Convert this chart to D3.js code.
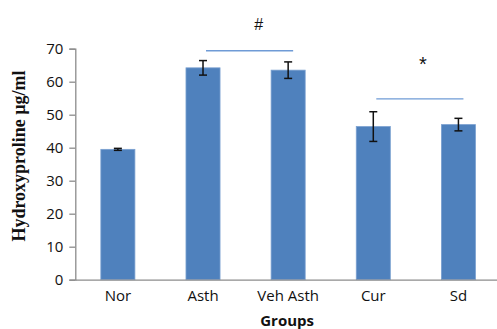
<!DOCTYPE html>
<html>
<head>
<meta charset="utf-8">
<script src="https://cdn.jsdelivr.net/npm/d3@7"></script>
<style>
  html, body { margin: 0; padding: 0; background: #fff; }
  svg { display: block; }
</style>
</head>
<body>
<svg id="chart" width="497" height="329"></svg>
<script>
// Hydroxyproline level per group (mean ± error)
const groups = ["Nor", "Asth", "Veh Asth", "Cur", "Sd"];
const means = [39.5, 64.2, 63.5, 46.4, 47.0];
const errors = [0.3, 2.2, 2.5, 4.5, 1.9];
const yTicks = [0, 10, 20, 30, 40, 50, 60, 70];

// Significance brackets: [from group, to group, height, symbol]
const sigFrom = ["Asth", "Cur"];
const sigTo = ["Veh Asth", "Sd"];
const sigLevel = [69.4, 54.8];
const sigSymbol = ["#", "*"];
const sigSymbolLevel = [77.4, 66.2];

const svg = d3.select("#chart");
const plotLeft = 75.3, plotRight = 501, plotTop = 48.7, plotBottom = 279.7;

const x = d3.scaleBand().domain(groups).range([plotLeft, plotRight]).paddingInner(0.6).paddingOuter(0.3);
const y = d3.scaleLinear().domain([0, 70]).range([plotBottom, plotTop]);

// Bars
svg.append("g").selectAll("rect").data(groups).join("rect")
  .attr("x", d => x(d))
  .attr("width", x.bandwidth())
  .attr("y", (d, i) => y(means[i]))
  .attr("height", (d, i) => y(0) - y(means[i]))
  .attr("fill", "#4f81bd")
  .attr("stroke", "#7aa0d0")
  .attr("stroke-width", 0.8);

// Error bars
const eb = svg.append("g").attr("stroke", "#111").attr("stroke-width", 1.5);
groups.forEach((g, i) => {
  const cx = x(g) + x.bandwidth() / 2;
  const hi = y(means[i] + errors[i]), lo = y(means[i] - errors[i]);
  eb.append("line").attr("x1", cx).attr("x2", cx).attr("y1", hi).attr("y2", lo);
  eb.append("line").attr("x1", cx - 4).attr("x2", cx + 4).attr("y1", hi).attr("y2", hi);
  eb.append("line").attr("x1", cx - 4).attr("x2", cx + 4).attr("y1", lo).attr("y2", lo);
});

// Y axis
const yAxis = d3.axisLeft(y).tickValues(yTicks).tickSize(6).tickPadding(6);
const gy = svg.append("g").attr("transform", `translate(${plotLeft},0)`).call(yAxis);
gy.select(".domain").attr("stroke", "#8c8c8c").attr("stroke-width", 1.3);
gy.selectAll(".tick line").attr("stroke", "#8c8c8c").attr("stroke-width", 1.3);
gy.selectAll(".tick text")
  .attr("font-family", "'Open Sans', sans-serif")
  .attr("font-size", "15px")
  .attr("fill", "#111");

// X axis
const xAxis = d3.axisBottom(x).tickSize(0).tickPadding(11);
const gx = svg.append("g").attr("transform", `translate(0,${plotBottom})`).call(xAxis);
gx.select(".domain").attr("stroke", "#8c8c8c").attr("stroke-width", 1.3);
gx.selectAll(".tick text")
  .attr("font-family", "'Open Sans', sans-serif")
  .attr("font-size", "15px")
  .attr("fill", "#111");

// Axis titles
svg.append("text")
  .attr("x", (plotLeft + plotRight) / 2 - 1)
  .attr("y", 326)
  .attr("text-anchor", "middle")
  .attr("font-family", "'Open Sans', sans-serif")
  .attr("font-weight", "bold")
  .attr("font-size", "15px")
  .attr("fill", "#111")
  .text("Groups");

svg.append("text")
  .attr("transform", "translate(24.5,156) rotate(-90)")
  .attr("text-anchor", "middle")
  .attr("font-family", "'Liberation Serif', 'Times New Roman', serif")
  .attr("font-weight", "bold")
  .attr("font-size", "18px")
  .attr("fill", "#111")
  .text("Hydroxyproline µg/ml");

// Significance markers
sigFrom.forEach((g, i) => {
  const x1 = x(g) + x.bandwidth() / 2 + 3;
  const x2 = x(sigTo[i]) + x.bandwidth() / 2 + 5;
  svg.append("line")
    .attr("x1", x1).attr("x2", x2)
    .attr("y1", y(sigLevel[i])).attr("y2", y(sigLevel[i]))
    .attr("stroke", "#6f9bd6").attr("stroke-width", 1.4);
  svg.append("text")
    .attr("x", (x1 + x2) / 2 + (i === 0 ? 9 : 3))
    .attr("y", y(sigSymbolLevel[i]) + (i === 0 ? 0 : 3))
    .attr("text-anchor", "middle")
    .attr("dominant-baseline", "central")
    .attr("font-family", "'Liberation Sans', sans-serif")
    .attr("font-size", i === 0 ? "16px" : "20px")
    .attr("fill", "#111")
    .text(sigSymbol[i]);
});
</script>
</body>
</html>
